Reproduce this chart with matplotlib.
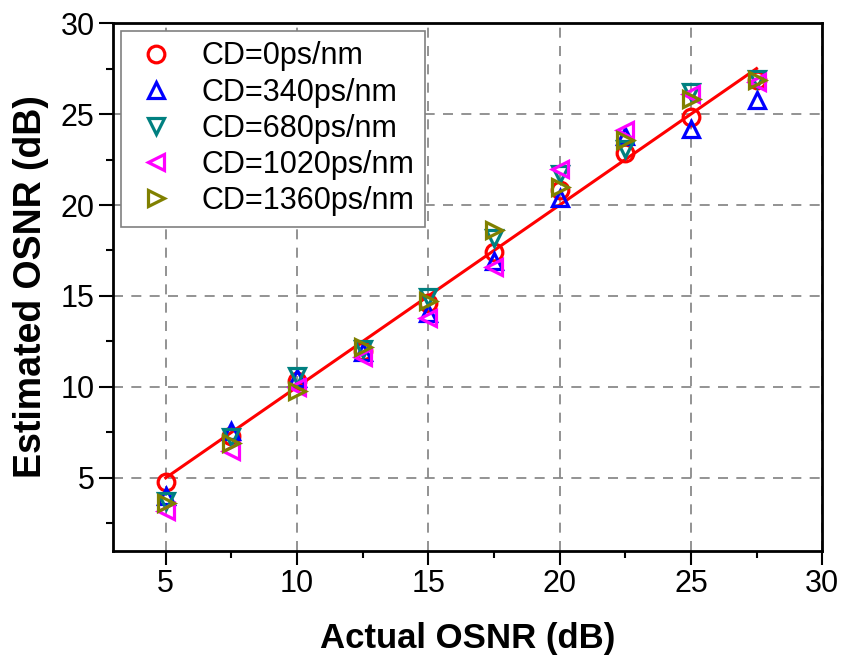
import matplotlib
matplotlib.use('Agg')
import matplotlib.pyplot as plt
from matplotlib.ticker import MultipleLocator

plt.rcParams['font.family'] = ['Liberation Sans', 'DejaVu Sans']

# actual OSNR values (dB)
osnr = [5, 7.5, 10, 12.5, 15, 17.5, 20, 22.5, 25, 27.5]

# estimated OSNR for each chromatic dispersion value
est_cd0 = [4.75, 7.3, 10.3, 12.0, 14.6, 17.4, 20.8, 22.85, 24.85, 26.85]
est_cd340 = [4.0, 7.6, 10.5, 11.9, 14.05, 16.95, 20.4, 23.8, 24.2, 25.75]
est_cd680 = [3.75, 7.25, 10.6, 12.1, 14.95, 18.2, 21.7, 23.1, 26.2, 26.95]
est_cd1020 = [3.2, 6.5, 10.0, 11.65, 13.8, 16.6, 22.0, 24.1, 26.1, 26.75]
est_cd1360 = [3.6, 6.9, 9.75, 12.2, 14.7, 18.6, 21.0, 23.55, 25.85, 26.85]

labels = ['CD=0ps/nm', 'CD=340ps/nm', 'CD=680ps/nm', 'CD=1020ps/nm', 'CD=1360ps/nm']
markers = ['o', '^', 'v', '<', '>']
colors = ['#ff0000', '#0000ff', '#008080', '#ff00ff', '#808000']

# ideal estimation line
line_x = [5, 27.5]
line_y = [5, 27.5]

fig = plt.figure(figsize=(8.45, 6.61), dpi=100)
ax = fig.add_axes([0.134, 0.167, 0.839, 0.798])

ax.plot(line_x, line_y, color='#ff0000', lw=2.2, zorder=2)

series = [est_cd0, est_cd340, est_cd680, est_cd1020, est_cd1360]
for ys, lab, m, c in zip(series, labels, markers, colors):
    ax.plot(osnr, ys, linestyle='none', marker=m, markersize=12,
            markerfacecolor='none', markeredgecolor=c, markeredgewidth=2.3,
            label=lab, zorder=3)

ax.set_xlim(3, 30)
ax.set_ylim(1, 30)
ax.xaxis.set_major_locator(MultipleLocator(5))
ax.xaxis.set_minor_locator(MultipleLocator(2.5))
ax.yaxis.set_major_locator(MultipleLocator(5))
ax.yaxis.set_minor_locator(MultipleLocator(2.5))

ax.grid(True, which='major', color='#808080', linestyle=(0, (6, 5)), lw=1.2)
ax.set_axisbelow(True)

ax.tick_params(which='major', direction='out', length=10, width=1.5,
               labelsize=22, top=False, right=False)
ax.tick_params(which='minor', direction='out', length=5, width=1.5,
               top=False, right=False)
for s in ax.spines.values():
    s.set_linewidth(2)

ax.set_xlabel('Actual OSNR (dB)', fontsize=25, fontweight='bold', labelpad=16)
ax.set_ylabel('Estimated OSNR (dB)', fontsize=27, fontweight='bold', labelpad=8)

leg = ax.legend(loc='upper left', fontsize=22, frameon=True, fancybox=False,
                edgecolor='#808080', framealpha=1, borderaxespad=0.25,
                handletextpad=0.7, handlelength=1.6, labelspacing=0.2,
                borderpad=0.35)
leg.get_frame().set_linewidth(1.2)

fig.savefig('out.png', dpi=100)
